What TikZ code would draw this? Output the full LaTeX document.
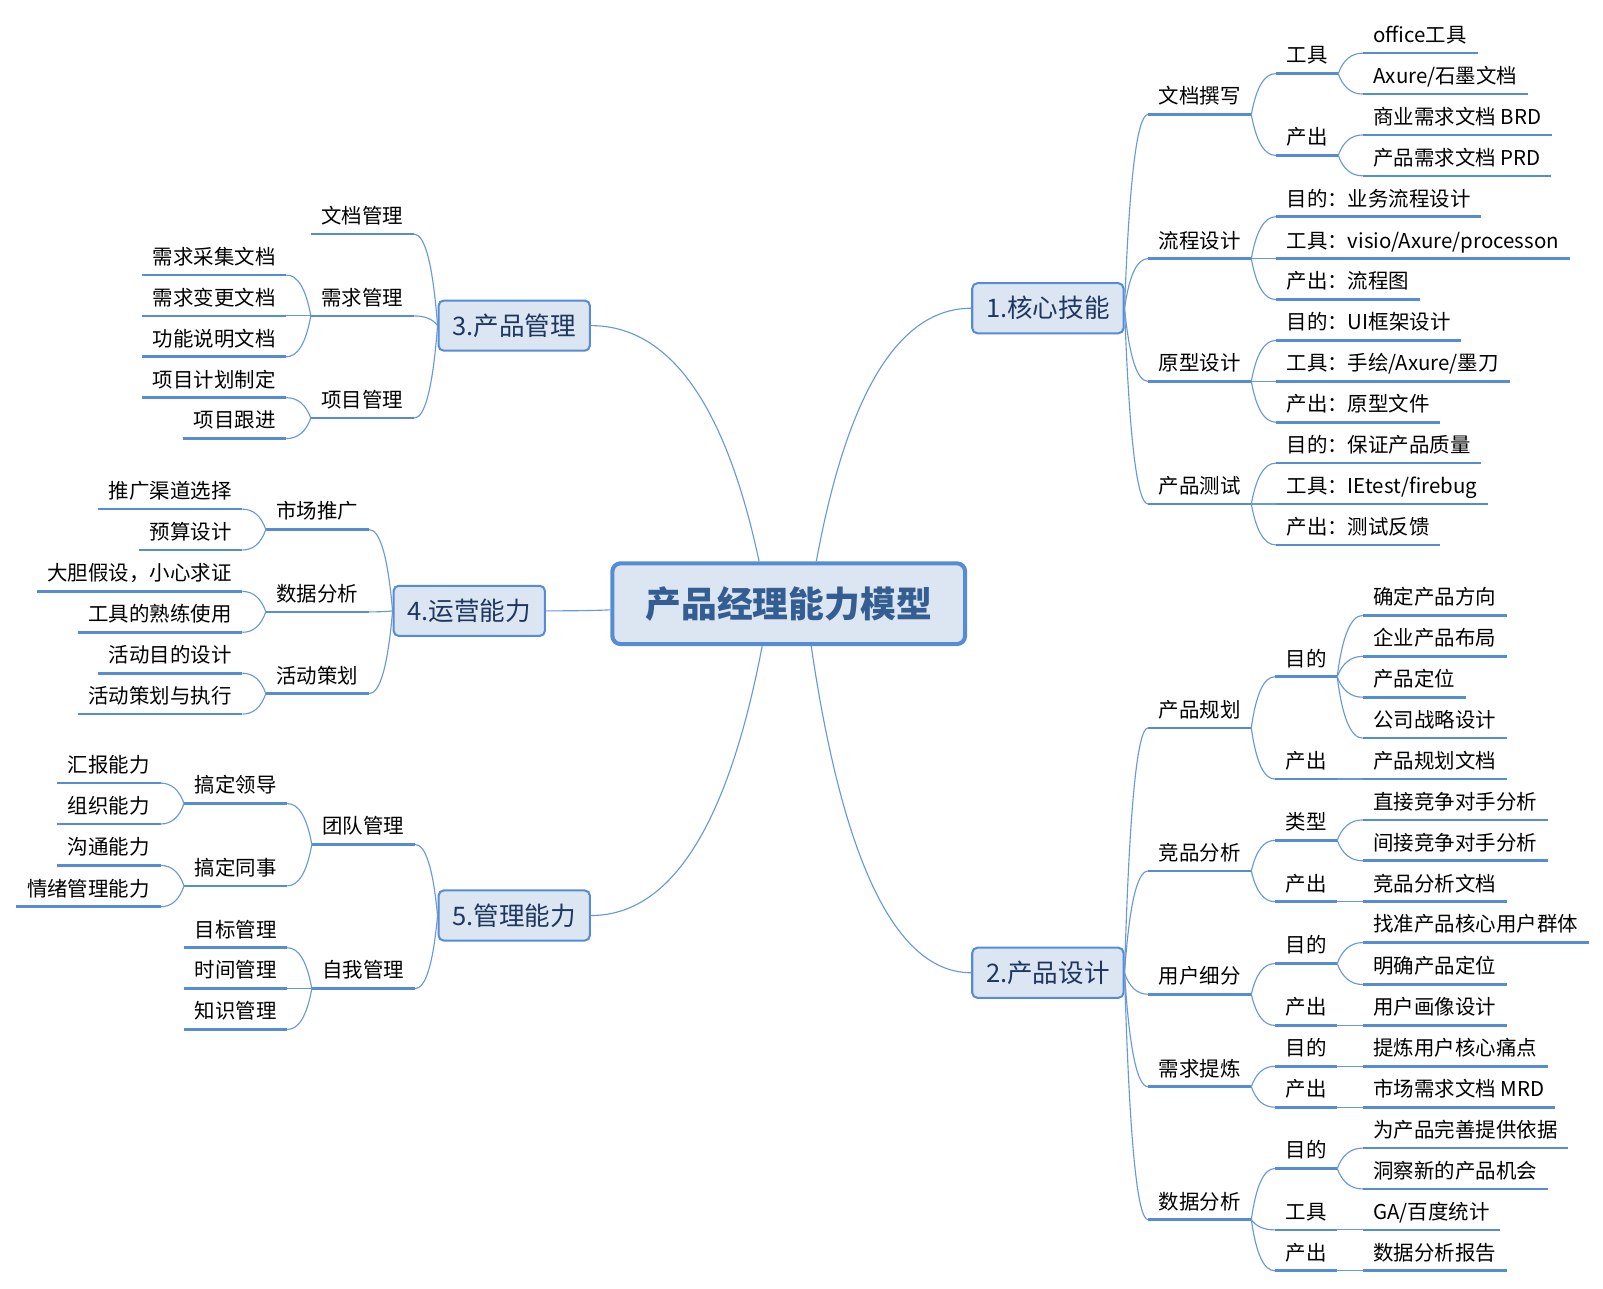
\documentclass[tikz,border=0pt]{standalone}
\usepackage{fontspec}
\setmainfont{Noto Sans CJK SC}
\usepackage{tikz}
\usetikzlibrary{positioning,calc}
\definecolor{lineblue}{RGB}{86,140,212}
\definecolor{linkblue}{RGB}{104,152,216}
\definecolor{boxfill}{RGB}{220,230,242}
\definecolor{boxtext}{RGB}{30,55,95}
\definecolor{coretext}{RGB}{52,94,146}

\tikzset{
  curvy/.style={to path={let \p1=(\tikztostart), \p2=(\tikztotarget) in
    .. controls ({\x1+0.2*(\x2-\x1)},{\y1+0.667*(\y2-\y1)}) and ({\x2-0.467*(\x2-\x1)},\y2) .. (\p2)}},
  link/.style={draw=linkblue, line width=0.55pt, curvy},
  topic/.style={inner xsep=5.25pt, inner ysep=4pt, outer sep=0pt,
    font=\fontsize{10pt}{12pt}\selectfont, text height=8.8pt, text depth=1.2pt,
    append after command={(\tikzlastnode.south west) edge[draw=lineblue, line width=1.3pt] (\tikzlastnode.south east)}},
  topicR/.style={topic, anchor=south west},
  topicL/.style={topic, anchor=south east},
  branchbox/.style={draw=lineblue, line width=1pt, fill=boxfill, rounded corners=2.5pt,
    minimum width=74pt, minimum height=24.5pt, inner sep=0pt, text=boxtext,
    font=\fontsize{12.5pt}{15pt}\selectfont, text height=11pt, text depth=1.5pt},
  corebox/.style={draw=lineblue, line width=2pt, fill=boxfill, rounded corners=4pt,
    minimum width=172.5pt, minimum height=39.5pt, inner sep=0pt, text=coretext,
    font=\bfseries\fontsize{17.5pt}{21pt}\selectfont, text height=15.4pt, text depth=2.1pt}
}

\begin{document}
\begin{tikzpicture}[x=0.5pt, y=-0.5pt]
\useasboundingbox (0,0) rectangle (1568,1260);

% Centre and main branches
\node[corebox] (core) at (771.5,590.5) {产品经理能力模型};
\node[branchbox] (skill) at (1025,301.5) {1.核心技能};
\node[branchbox] (design) at (1025,951.5) {2.产品设计};
\node[branchbox] (pm) at (503,318.5) {3.产品管理};
\node[branchbox] (ops) at (459,597.5) {4.运营能力};
\node[branchbox] (mgmt) at (503,895.5) {5.管理能力};

\coordinate (c1) at ($(core.north)+(27,0)$);
\coordinate (c2) at ($(core.south)+(22,0)$);
\coordinate (c3) at ($(core.north)+(-29,0)$);
\coordinate (c4) at ($(core.west)+(0,6)$);
\coordinate (c5) at ($(core.south)+(-26,0)$);
\draw[link] (c1) to (skill.west);
\draw[link] (c2) to (design.west);
\draw[link] (c3) to (pm.east);
\draw[link] (c4) to (ops.east);
\draw[link] (c5) to (mgmt.east);

% 1. core skills
\node[topicR] (doc) at (1123,112) {文档撰写};
\node[topicR] (flow) at (1123,253) {流程设计};
\node[topicR] (proto) at (1123,373) {原型设计};
\node[topicR] (test) at (1123,493) {产品测试};

\node[topicR] (doctool) at (1248,72) {工具};
\node[topicR] (docout) at (1248,152) {产出};
\node[topicR] (flowa) at (1248,212) {目的：业务流程设计};
\node[topicR] (flowb) at (1248,253) {工具：visio/Axure/processon};
\node[topicR] (flowc) at (1248,293) {产出：流程图};
\node[topicR] (protoa) at (1248,333) {目的：UI框架设计};
\node[topicR] (protob) at (1248,373) {工具：手绘/Axure/墨刀};
\node[topicR] (protoc) at (1248,413) {产出：原型文件};
\node[topicR] (testa) at (1248,453) {目的：保证产品质量};
\node[topicR] (testb) at (1248,493) {工具：IEtest/firebug};
\node[topicR] (testc) at (1248,533) {产出：测试反馈};

\node[topicR] (office) at (1333,52) {office工具};
\node[topicR] (axure) at (1333,92) {Axure/石墨文档};
\node[topicR] (brd) at (1333,132) {商业需求文档 BRD};
\node[topicR] (prd) at (1333,172) {产品需求文档 PRD};

\foreach \c in {doc,flow,proto,test} \draw[link] (skill.east) to (\c.south west);
\foreach \c in {doctool,docout} \draw[link] (doc.south east) to (\c.south west);
\foreach \c in {office,axure} \draw[link] (doctool.south east) to (\c.south west);
\foreach \c in {brd,prd} \draw[link] (docout.south east) to (\c.south west);
\foreach \c in {flowa,flowb,flowc} \draw[link] (flow.south east) to (\c.south west);
\foreach \c in {protoa,protob,protoc} \draw[link] (proto.south east) to (\c.south west);
\foreach \c in {testa,testb,testc} \draw[link] (test.south east) to (\c.south west);

% 2. product design
\node[topicR] (plan) at (1123,712) {产品规划};
\node[topicR] (comp) at (1123,852) {竞品分析};
\node[topicR] (user) at (1123,972.5) {用户细分};
\node[topicR] (need) at (1123,1063) {需求提炼};
\node[topicR] (data) at (1123,1193) {数据分析};

\node[topicR] (plangoal) at (1247,662) {目的};
\node[topicR] (planout) at (1247,762) {产出};
\node[topicR] (comptype) at (1247,822) {类型};
\node[topicR] (compout) at (1247,882) {产出};
\node[topicR] (usergoal) at (1247,942.5) {目的};
\node[topicR] (userout) at (1247,1003) {产出};
\node[topicR] (needgoal) at (1247,1043) {目的};
\node[topicR] (needout) at (1247,1083) {产出};
\node[topicR] (datagoal) at (1247,1143) {目的};
\node[topicR] (datatool) at (1247,1203) {工具};
\node[topicR] (dataout) at (1247,1243) {产出};

\node[topicR] (pg1) at (1333,602) {确定产品方向};
\node[topicR] (pg2) at (1333,642) {企业产品布局};
\node[topicR] (pg3) at (1333,682) {产品定位};
\node[topicR] (pg4) at (1333,722) {公司战略设计};
\node[topicR] (po1) at (1333,762) {产品规划文档};
\node[topicR] (ct1) at (1333,802) {直接竞争对手分析};
\node[topicR] (ct2) at (1333,842) {间接竞争对手分析};
\node[topicR] (co1) at (1333,882) {竞品分析文档};
\node[topicR] (ug1) at (1333,922) {找准产品核心用户群体};
\node[topicR] (ug2) at (1333,963) {明确产品定位};
\node[topicR] (uo1) at (1333,1003) {用户画像设计};
\node[topicR] (ng1) at (1333,1043) {提炼用户核心痛点};
\node[topicR] (no1) at (1333,1083) {市场需求文档 MRD};
\node[topicR] (dg1) at (1333,1123) {为产品完善提供依据};
\node[topicR] (dg2) at (1333,1163) {洞察新的产品机会};
\node[topicR] (dt1) at (1333,1203) {GA/百度统计};
\node[topicR] (do1) at (1333,1243) {数据分析报告};

\foreach \c in {plan,comp,user,need,data} \draw[link] (design.east) to (\c.south west);
\foreach \c in {plangoal,planout} \draw[link] (plan.south east) to (\c.south west);
\foreach \c in {pg1,pg2,pg3,pg4} \draw[link] (plangoal.south east) to (\c.south west);
\draw[link] (planout.south east) to (po1.south west);
\foreach \c in {comptype,compout} \draw[link] (comp.south east) to (\c.south west);
\foreach \c in {ct1,ct2} \draw[link] (comptype.south east) to (\c.south west);
\draw[link] (compout.south east) to (co1.south west);
\foreach \c in {usergoal,userout} \draw[link] (user.south east) to (\c.south west);
\foreach \c in {ug1,ug2} \draw[link] (usergoal.south east) to (\c.south west);
\draw[link] (userout.south east) to (uo1.south west);
\foreach \c in {needgoal,needout} \draw[link] (need.south east) to (\c.south west);
\draw[link] (needgoal.south east) to (ng1.south west);
\draw[link] (needout.south east) to (no1.south west);
\foreach \c in {datagoal,datatool,dataout} \draw[link] (data.south east) to (\c.south west);
\foreach \c in {dg1,dg2} \draw[link] (datagoal.south east) to (\c.south west);
\draw[link] (datatool.south east) to (dt1.south west);
\draw[link] (dataout.south east) to (do1.south west);

% 3. product management
\node[topicL] (docm) at (405,229) {文档管理};
\node[topicL] (reqm) at (405,309) {需求管理};
\node[topicL] (projm) at (405,409) {项目管理};
\node[topicL] (req1) at (280,269) {需求采集文档};
\node[topicL] (req2) at (280,309) {需求变更文档};
\node[topicL] (req3) at (280,349) {功能说明文档};
\node[topicL] (proj1) at (280,389) {项目计划制定};
\node[topicL] (proj2) at (280,429) {项目跟进};

\foreach \c in {docm,reqm,projm} \draw[link] (pm.west) to (\c.south east);
\foreach \c in {req1,req2,req3} \draw[link] (reqm.south west) to (\c.south east);
\foreach \c in {proj1,proj2} \draw[link] (projm.south west) to (\c.south east);

% 4. operations
\node[topicL] (mkt) at (361,518) {市场推广};
\node[topicL] (ana) at (361,598.5) {数据分析};
\node[topicL] (evt) at (361,678.5) {活动策划};
\node[topicL] (mkt1) at (237,498) {推广渠道选择};
\node[topicL] (mkt2) at (237,538) {预算设计};
\node[topicL] (ana1) at (237,578.5) {大胆假设，小心求证};
\node[topicL] (ana2) at (237,618.5) {工具的熟练使用};
\node[topicL] (evt1) at (237,658.5) {活动目的设计};
\node[topicL] (evt2) at (237,698.5) {活动策划与执行};

\foreach \c in {mkt,ana,evt} \draw[link] (ops.west) to (\c.south east);
\foreach \c in {mkt1,mkt2} \draw[link] (mkt.south west) to (\c.south east);
\foreach \c in {ana1,ana2} \draw[link] (ana.south west) to (\c.south east);
\foreach \c in {evt1,evt2} \draw[link] (evt.south west) to (\c.south east);

% 5. management
\node[topicL] (team) at (406,826) {团队管理};
\node[topicL] (self) at (406,967) {自我管理};
\node[topicL] (boss) at (281,786) {搞定领导};
\node[topicL] (peer) at (281,866.5) {搞定同事};
\node[topicL] (goalm) at (281,927) {目标管理};
\node[topicL] (timem) at (281,967) {时间管理};
\node[topicL] (knowm) at (281,1007) {知识管理};
\node[topicL] (rep) at (157,766) {汇报能力};
\node[topicL] (org) at (157,806) {组织能力};
\node[topicL] (comm) at (157,846.5) {沟通能力};
\node[topicL] (emo) at (157,887) {情绪管理能力};

\foreach \c in {team,self} \draw[link] (mgmt.west) to (\c.south east);
\foreach \c in {boss,peer} \draw[link] (team.south west) to (\c.south east);
\foreach \c in {goalm,timem,knowm} \draw[link] (self.south west) to (\c.south east);
\foreach \c in {rep,org} \draw[link] (boss.south west) to (\c.south east);
\foreach \c in {comm,emo} \draw[link] (peer.south west) to (\c.south east);
\end{tikzpicture}
\end{document}
